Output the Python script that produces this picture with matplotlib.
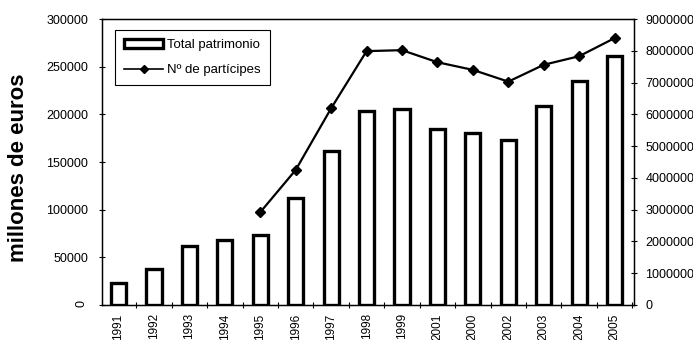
import matplotlib
matplotlib.use("Agg")
import matplotlib.pyplot as plt
from matplotlib.patches import Patch
from matplotlib.lines import Line2D

plt.rcParams['font.family'] = ['Liberation Sans', 'DejaVu Sans']

years = ["1991", "1992", "1993", "1994", "1995", "1996", "1997", "1998",
         "1999", "2001", "2000", "2002", "2003", "2004", "2005"]
patrimonio = [23000, 37500, 61500, 68000, 73000, 112000, 161500, 203500,
              205500, 184500, 180000, 173500, 209000, 235000, 261000]
participes = [None, None, None, None, 2920000, 4250000, 6190000, 7990000,
              8020000, 7640000, 7400000, 7030000, 7560000, 7830000, 8400000]

left_ticks = [0, 50000, 100000, 150000, 200000, 250000, 300000]
right_ticks = [0, 1000000, 2000000, 3000000, 4000000, 5000000,
               6000000, 7000000, 8000000, 9000000]

fig = plt.figure(figsize=(6.93, 3.40), dpi=100)
ax = fig.add_axes([0.147, 0.103, 0.768, 0.841])
x = list(range(len(years)))

ax.bar(x, patrimonio, width=0.43, facecolor='white', edgecolor='black',
       linewidth=2.4, zorder=2)
ax.set_xlim(-0.47, len(years) - 0.45)
ax.set_ylim(0, 300000)
ax.set_yticks(left_ticks)
ax.set_yticklabels([str(v) for v in left_ticks], fontsize=9)
ax.set_xticks(x)
ax.set_xticklabels(years, rotation=90, fontsize=8.5)
ax.set_xticks([i + 0.5 for i in x], minor=True)
ax.tick_params(axis='x', which='major', length=0, pad=6)
ax.tick_params(axis='x', which='minor', length=5, direction='inout', width=0.8)
ax.tick_params(axis='y', length=4, direction='inout', width=0.8, pad=8)
ax.get_yticklabels()[0].set_rotation(90)
ax.set_ylabel("millones de euros", fontsize=16, fontweight='bold')
ax.yaxis.set_label_coords(-0.136, 0.48)
for s in ax.spines.values():
    s.set_linewidth(1.0)

ax2 = ax.twinx()
px = [i for i, v in zip(x, participes) if v is not None]
py = [v for v in participes if v is not None]
ax2.plot(px, py, color='black', linewidth=1.6, marker='D', markersize=5.5,
         zorder=3)
ax2.set_ylim(0, 9000000)
ax2.set_yticks(right_ticks)
ax2.set_yticklabels([str(v) for v in right_ticks], fontsize=9)
ax2.tick_params(axis='y', length=4, direction='inout', width=0.8, pad=6)

handles = [
    Patch(facecolor='white', edgecolor='black', linewidth=2.4,
          label='Total patrimonio'),
    Line2D([0], [0], color='black', linewidth=1.2, marker='D', markersize=4.5,
           label='Nº de partícipes'),
]
leg = ax2.legend(handles=handles, loc='upper left',
                 bbox_to_anchor=(0.024, 0.962), borderaxespad=0,
                 fontsize=9.5, frameon=True, fancybox=False,
                 edgecolor='black', framealpha=1, handlelength=3.0,
                 handletextpad=0.3, borderpad=0.7, labelspacing=0.95)
leg.get_frame().set_linewidth(0.8)

fig.savefig("out.png", dpi=100)
